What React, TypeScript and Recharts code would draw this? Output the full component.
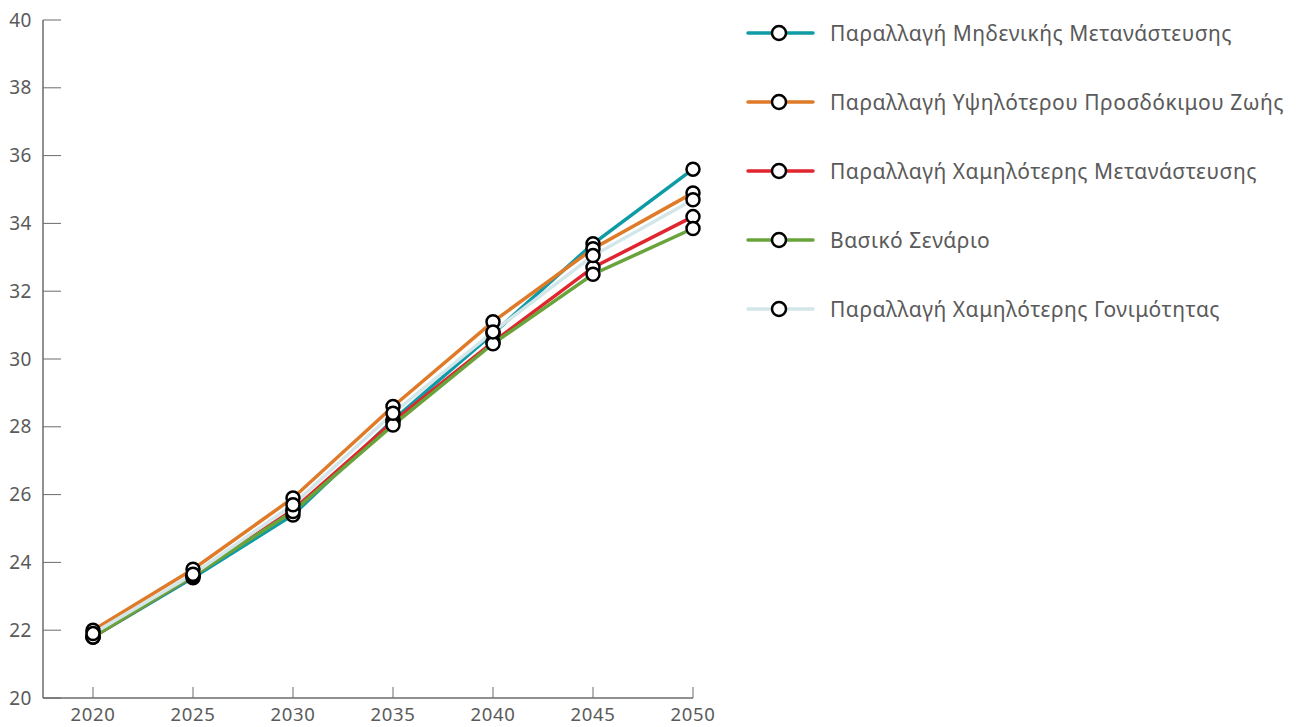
import React from "react";
import { LineChart, Line, XAxis, YAxis, Legend } from "recharts";

const years = [2020, 2025, 2030, 2035, 2040, 2045, 2050];
const zeroMigration = [21.8, 23.55, 25.4, 28.2, 30.75, 33.4, 35.6];
const higherLifeExpectancy = [22.0, 23.8, 25.9, 28.6, 31.1, 33.25, 34.9];
const lowerMigration = [21.8, 23.6, 25.55, 28.15, 30.5, 32.7, 34.2];
const baseScenario = [21.8, 23.6, 25.5, 28.05, 30.45, 32.5, 33.85];
const lowerFertility = [21.9, 23.65, 25.7, 28.4, 30.8, 33.05, 34.7];
const yTicks = [20, 22, 24, 26, 28, 30, 32, 34, 36, 38, 40];

const series = [
  { key: "zero", name: "Παραλλαγή Μηδενικής Μετανάστευσης", color: "#0E9BA6", values: zeroMigration },
  { key: "life", name: "Παραλλαγή Υψηλότερου Προσδόκιμου Ζωής", color: "#DF7B28", values: higherLifeExpectancy },
  { key: "lowmig", name: "Παραλλαγή Χαμηλότερης Μετανάστευσης", color: "#E1252F", values: lowerMigration },
  { key: "base", name: "Βασικό Σενάριο", color: "#69A33C", values: baseScenario },
  { key: "fert", name: "Παραλλαγή Χαμηλότερης Γονιμότητας", color: "#D3E6EA", values: lowerFertility },
];

const data = years.map((y, i) => {
  const row: Record<string, number> = { year: y };
  series.forEach((s) => (row[s.key] = s.values[i]));
  return row;
});

const FONT = "'Noto Sans', sans-serif";
const TEXT = "#5a5a5a";
const AXIS = "#6b6b6b";

const YTick = (props: any) => {
  const { x, y, payload } = props;
  return (
    <g>
      <line x1={x} x2={x + 18} y1={y} y2={y} stroke={AXIS} strokeWidth={1} />
      <text x={x - 11} y={y} dy={6.5} textAnchor="end" fill={TEXT} fontSize={19} letterSpacing={0.5} fontFamily={FONT}>
        {payload.value}
      </text>
    </g>
  );
};

const XTick = (props: any) => {
  const { x, y, payload } = props;
  return (
    <g>
      <line x1={x} x2={x} y1={y} y2={y - 11} stroke={AXIS} strokeWidth={1} />
      <text x={x} y={y + 23} textAnchor="middle" fill={TEXT} fontSize={18.5} letterSpacing={0.7} fontFamily={FONT}>
        {payload.value}
      </text>
    </g>
  );
};

const LegendContent = () => (
  <div style={{ fontFamily: FONT }}>
    {series.map((s) => (
      <div key={s.key} style={{ display: "flex", alignItems: "center", height: 69 }}>
        <svg width={70} height={20} style={{ display: "block" }}>
          <line x1={2} x2={67} y1={10} y2={10} stroke={s.color} strokeWidth={3.5} strokeLinecap="round" />
          <circle cx={33} cy={10} r={7} fill="#fff" stroke="#000" strokeWidth={2.5} />
        </svg>
        <span style={{ marginLeft: 14, fontSize: 21, letterSpacing: 0.5, color: TEXT, whiteSpace: "nowrap" }}>{s.name}</span>
      </div>
    ))}
  </div>
);

export default function App() {
  return (
    <div style={{ position: "absolute", left: 0, top: 0, width: 1299, height: 727, background: "#fff" }}>
      <LineChart width={1299} height={727} data={data} margin={{ top: 20, right: 606, bottom: 0, left: 0 }}>
        <XAxis
          dataKey="year"
          type="number"
          domain={[2017.5, 2050]}
          ticks={years}
          tickSize={0}
          tickMargin={0}
          tick={<XTick />}
          stroke={AXIS}
          axisLine={{ stroke: AXIS, strokeWidth: 1.5 }}
          height={29}
        />
        <YAxis
          domain={[20, 40]}
          ticks={yTicks}
          width={43}
          tickSize={0}
          tickMargin={0}
          tick={<YTick />}
          axisLine={{ stroke: AXIS, strokeWidth: 1.5 }}
        />
        <Legend
          layout="vertical"
          align="center"
          verticalAlign="middle"
          content={<LegendContent />}
          wrapperStyle={{ position: "absolute", left: 746, top: -2, width: 560, height: 360 }}
        />
        {series.map((s) => (
          <Line
            key={s.key}
            dataKey={s.key}
            name={s.name}
            stroke={s.color}
            strokeWidth={3.5}
            dot={{ r: 6.5, fill: "#fff", stroke: "#000", strokeWidth: 2.5 }}
            activeDot={false}
            isAnimationActive={false}
          />
        ))}
      </LineChart>
    </div>
  );
}
